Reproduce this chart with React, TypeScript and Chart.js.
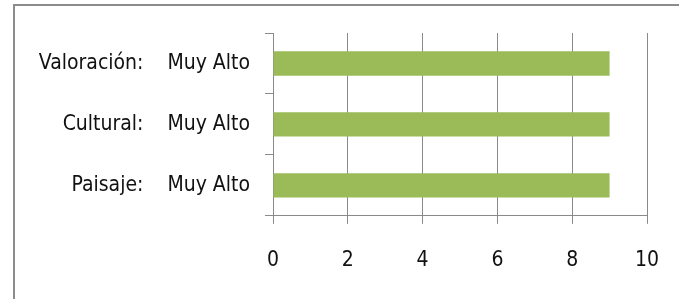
import React, { useEffect, useRef } from "react";
import { Chart, registerables } from "chart.js";

Chart.register(...registerables);

const categories = ["Valoración:", "Cultural:", "Paisaje:"];
const levels = ["Muy Alto", "Muy Alto", "Muy Alto"];
const values = [9, 9, 9];
const xTicks = [0, 2, 4, 6, 8, 10];

const FONT = "'Liberation Sans Narrow', 'DejaVu Sans Condensed', 'Liberation Sans', sans-serif";

export default function App() {
  const ref = useRef<HTMLCanvasElement | null>(null);

  useEffect(() => {
    if (!ref.current) return;
    const chart = new Chart(ref.current, {
      type: "bar",
      data: {
        labels: categories.map((c, i) => `${c}    ${levels[i]}`),
        datasets: [
          {
            data: values,
            backgroundColor: "#9BBB59",
            borderWidth: 0,
            categoryPercentage: 1,
            barPercentage: 0.4,
          },
        ],
      },
      options: {
        indexAxis: "y",
        responsive: false,
        animation: false,
        layout: { padding: { left: 0, right: 32, top: 33, bottom: 2 } },
        plugins: { legend: { display: false }, tooltip: { enabled: false }, title: { display: false } },
        scales: {
          x: {
            min: xTicks[0],
            max: xTicks[xTicks.length - 1],
            afterBuildTicks: (scale: any) => {
              scale.ticks = xTicks.map((v) => ({ value: v }));
            },
            afterFit: (scale: any) => {
              scale.paddingRight = 0;
              scale.paddingLeft = 0;
            },
            grid: { color: "#8a8a8a", lineWidth: 1, tickLength: 8, drawTicks: true },
            border: { color: "#8a8a8a", width: 1 },
            ticks: {
              padding: 24,
              color: "#111",
              font: { family: FONT, size: 21 },
            },
          },
          y: {
            afterFit: (scale: any) => {
              scale.width = 273;
            },
            grid: { offset: true, drawOnChartArea: false, drawTicks: true, tickLength: 8, color: "#8a8a8a" },
            border: { color: "#8a8a8a", width: 1 },
            ticks: {
              padding: 15,
              color: "#111",
              font: { family: FONT, size: 21 },
            },
          },
        },
      },
    });
    return () => chart.destroy();
  }, []);

  return (
    <div style={{ position: "absolute", left: 0, top: 0, width: 679, height: 299, background: "#fff", overflow: "hidden" }}>
      <div
        style={{
          position: "absolute",
          left: 13,
          top: 4,
          width: 700,
          height: 400,
          borderLeft: "2px solid #8c8c8c",
          borderTop: "2px solid #8c8c8c",
        }}
      />
      <canvas ref={ref} width={679} height={299} style={{ position: "absolute", left: 0, top: 0 }} />
    </div>
  );
}
